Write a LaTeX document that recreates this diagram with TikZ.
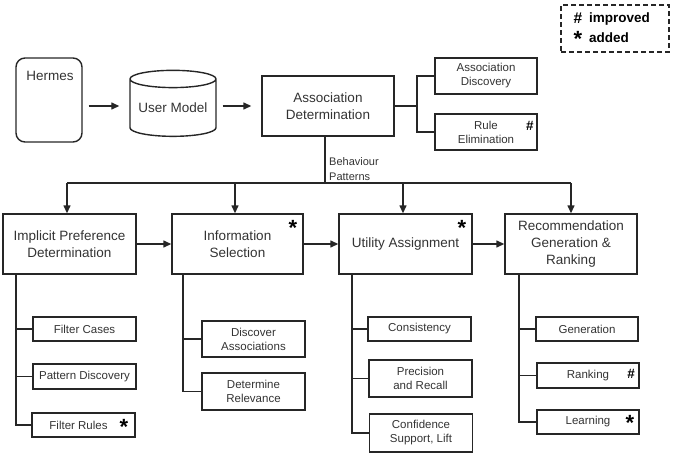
\documentclass[tikz,border=0pt]{standalone}
\usepackage{fontspec}
\setmainfont{Liberation Sans}
\usetikzlibrary{arrows.meta,shapes.geometric}
\begin{document}
\begin{tikzpicture}[x=1pt,y=-1pt,
  every node/.style={text=black!80},
  conn/.style={draw=black!85, line width=1.4pt},
  arr/.style={conn, -{Triangle[length=8pt,width=7pt]}},
  mbox/.style={draw=black!85, line width=1.4pt, align=center, inner sep=0pt,
    font=\fontsize{13.5}{17}\selectfont},
  sbox/.style={draw=black!85, line width=1.4pt, align=center, inner sep=0pt,
    minimum width=103pt, font=\fontsize{11.5}{14}\selectfont},
  starflag/.style={anchor=base, inner sep=0pt, text=black, font=\fontsize{22}{22}\selectfont\bfseries},
  hashflag/.style={anchor=base, inner sep=0pt, text=black, font=\fontsize{13.5}{14}\selectfont\bfseries},
  legt/.style={anchor=base west, inner sep=0pt, text=black, font=\fontsize{13.5}{14}\selectfont\bfseries},
]
\useasboundingbox (0,0) rectangle (673,466);

% legend
\node[draw=black!85, line width=1.4pt, dash pattern=on 5pt off 3pt,
      minimum width=108pt, minimum height=47pt, inner sep=0pt] (leg) at (615,28.5) {};
\node[hashflag, font=\fontsize{15.5}{16}\selectfont\bfseries] (lh) at (578,23.5) {\#};
\node[legt] (li) at (589,22.5) {improved};
\node[starflag] (ls) at (578,46.5) {*};
\node[legt] (la) at (589,42.5) {added};

% top row
\node[draw=black!85, line width=1.4pt, rounded corners=9pt, minimum width=66pt,
      minimum height=84pt, inner sep=0pt] (hermes) at (49,100) {};
\node[font=\fontsize{13.5}{17}\selectfont, inner sep=0pt] (hermesT) at (50,75.5) {Hermes};
\node[cylinder, shape border rotate=90, aspect=0.25, draw=black!85, line width=1.4pt,
      minimum width=86pt, minimum height=66pt, inner sep=0pt,
      font=\fontsize{13.5}{17}\selectfont] (um) at (173,108) {User Model};
\node[mbox, minimum width=132pt, minimum height=60pt] (ad) at (328,106) {Association\\Determination};
\node[sbox, minimum width=102pt, minimum height=36pt] (adisc) at (486,76) {Association\\Discovery};
\node[sbox, minimum width=102pt, minimum height=36pt] (relim) at (486,132) {Rule\\Elimination};
\node[hashflag] (f1) at (530,130) {\#};

\draw[arr, shorten <=6pt, shorten >=10pt] (hermes.east |- ad.west) -- (um.west |- ad.west);
\draw[arr, shorten <=6pt, shorten >=10pt] (um.east |- ad.west) -- (ad.west);

\coordinate (j) at (417,106);
\draw[conn] (ad.east) -- (j);
\draw[conn] (adisc.west) -| (j) |- (relim.west);

% bus
\coordinate (bus1) at (67,183);
\coordinate (bus2) at (235,183);
\coordinate (bus3) at (403,183);
\coordinate (bus4) at (571,183);
\coordinate (adv) at (325,183);
\draw[conn] (bus1) -- (bus4);
\draw[conn] (adv |- ad.south) -- (adv);
\node[font=\fontsize{11}{15}\selectfont, align=left, anchor=west, inner sep=0pt] (bp) at (329,169.5) {Behaviour\\Patterns};

% main row
\node[mbox, minimum width=133pt, minimum height=60pt] (b1) at (69.5,244) {Implicit Preference\\Determination};
\node[mbox, minimum width=131pt, minimum height=60pt] (b2) at (237.5,244) {Information\\Selection};
\node[mbox, minimum width=133pt, minimum height=60pt] (b3) at (405.5,244) {Utility Assignment};
\node[mbox, minimum width=132pt, minimum height=60pt] (b4) at (571,244) {Recommendation\\Generation \&\\Ranking};
\node[starflag] (f2) at (293,235.5) {*};
\node[starflag] (f3) at (462,235.5) {*};

\draw[arr] (bus1) -- (bus1 |- b1.north);
\draw[arr] (bus2) -- (bus2 |- b2.north);
\draw[arr] (bus3) -- (bus3 |- b3.north);
\draw[arr] (bus4) -- (bus4 |- b4.north);
\draw[arr] (b1) -- (b2);
\draw[arr] (b2) -- (b3);
\draw[arr] (b3) -- (b4);

% sub boxes column 1
\coordinate (t1) at (16,274);
\node[sbox, minimum height=24pt] (fc) at (84.5,329) {Filter Cases};
\node[sbox, minimum height=25pt] (pd) at (84.5,376.5) {Pattern Discovery};
\node[sbox, minimum height=24pt] (fr) at (83.5,425) {Filter Rules\hspace{10pt}};
\node[starflag] (f4) at (124,434.5) {*};
\draw[conn] (t1) |- (fr.west);
\draw[conn] (t1 |- fc.west) -- (fc.west);
\draw[conn] (t1 |- pd.west) -- (pd.west);

% column 2
\coordinate (t2) at (183,274);
\node[sbox, minimum height=36pt] (da) at (253.5,339) {Discover\\Associations};
\node[sbox, minimum height=37pt] (dr) at (253.5,391.5) {Determine\\Relevance};
\draw[conn] (t2) |- (dr.west);
\draw[conn] (t2 |- da.west) -- (da.west);

% column 3
\coordinate (t3) at (352,274);
\node[sbox, minimum height=24pt] (co) at (419.5,329) {Consistency};
\node[sbox, minimum height=37pt] (pr) at (420.5,378.5) {Precision\\and Recall};
\node[sbox, minimum height=38pt] (cs) at (421,433) {Confidence\\Support, Lift};
\draw[conn] (t3) |- (cs.west);
\draw[conn] (t3 |- co.west) -- (co.west);
\draw[conn] (t3 |- pr.west) -- (pr.west);

% column 4
\coordinate (t4) at (519,274);
\node[sbox, minimum width=102pt, minimum height=24pt] (ge) at (587,329) {Generation};
\node[sbox, minimum width=102pt, minimum height=25pt] (ra) at (588,375.5) {Ranking};
\node[sbox, minimum width=102pt, minimum height=24pt] (le) at (588,422) {Learning};
\node[hashflag] (f5) at (631,378) {\#};
\node[starflag] (f6) at (630,430.5) {*};
\draw[conn] (t4) |- (le.west);
\draw[conn] (t4 |- ge.west) -- (ge.west);
\draw[conn] (t4 |- ra.west) -- (ra.west);
\end{tikzpicture}
\end{document}
